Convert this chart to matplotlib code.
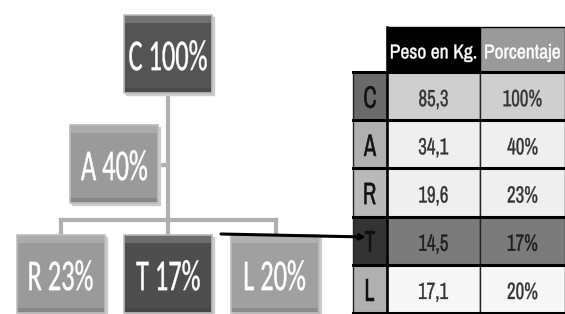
import matplotlib.pyplot as plt
from matplotlib.patches import Rectangle, PathPatch
from matplotlib.textpath import TextPath
from matplotlib.font_manager import FontProperties
from matplotlib.transforms import Affine2D

# data
letters = ['C', 'A', 'R', 'T', 'L']
peso = ['85,3', '34,1', '19,6', '14,5', '17,1']
porcentaje = [100, 40, 23, 17, 20]
headers = ['Peso en Kg.', 'Porcentaje']

fig = plt.figure(figsize=(5.65, 3.14), dpi=100)
ax = fig.add_axes([0, 0, 1, 1])
ax.set_xlim(0, 565)
ax.set_ylim(314, 0)
ax.axis('off')


def squeezed(x, y, s, size, family, sx=1.0, color='black', bold=0.0, z=6):
    # text drawn as a path so it can be narrowed like the original
    prop = FontProperties(family=family)
    tp = TextPath((0, 0), s, size=size, prop=prop)
    ref = TextPath((0, 0), 'H', size=size, prop=prop).get_extents()
    bb = tp.get_extents()
    tr = (Affine2D().translate(-(bb.x0 + bb.x1) / 2, -(ref.y0 + ref.y1) / 2)
          .scale(sx, -1).translate(x, y))
    ax.add_patch(PathPatch(tr.transform_path(tp), facecolor=color, edgecolor=color,
                           lw=bold, zorder=z))


# tree boxes (top-left corner)
box_w, box_h = 88, 78
box_pos = {'C': (124, 15), 'A': (70, 125), 'R': (17, 235), 'T': (124, 235), 'L': (231, 235)}
box_col = {'C': '#545454', 'A': '#9a9a9a', 'R': '#9a9a9a', 'T': '#4e4e4e', 'L': '#a0a0a0'}

# connectors
conn = '#b0b0b0'
ax.plot([168, 168], [93, 235], color=conn, lw=3, zorder=1)
ax.plot([158, 168], [165, 165], color=conn, lw=3, zorder=1)
ax.plot([61, 276], [220, 220], color=conn, lw=3, zorder=1)
for xx in (61, 276):
    ax.plot([xx, xx], [220, 235], color=conn, lw=3, zorder=1)

for k, p in zip(letters, porcentaje):
    x0, y0 = box_pos[k]
    ax.add_patch(Rectangle((x0 + 2, y0 + 2), box_w, box_h, color='#cccccc', zorder=2))
    ax.add_patch(Rectangle((x0, y0), box_w, box_h, facecolor=box_col[k],
                           edgecolor='#bdbdbd', lw=1.2, zorder=3))
    ax.add_patch(Rectangle((x0 + 1, y0 + 1), box_w - 2, 7, facecolor='white',
                           alpha=0.18, lw=0, zorder=4))
    ax.add_patch(Rectangle((x0 + 1, y0 + box_h - 5), box_w - 2, 4, facecolor='black',
                           alpha=0.12, lw=0, zorder=4))
    squeezed(x0 + box_w / 2, y0 + box_h / 2 + 2, f'{k} {p}%', 44, 'Carlito', 0.6, 'white',
             bold=0.3)

# table
col_x = [353, 387, 480, 565]
head_y = (27, 72)
row_h = 48.2
letter_col = ['#6a6a6a', '#b0b0b0', '#b9b9b9', '#333333', '#b0b0b0']
cell_col = ['#cfcfcf', '#efefef', '#efefef', '#7b7b7b', '#f7f7f7']
text_col = ['#333333', '#333333', '#333333', '#1e1e1e', '#333333']
head_col = ['#000000', '#9a9a9a']
tfont = 'Archivo Narrow'

for j, h in enumerate(headers):
    ax.add_patch(Rectangle((col_x[j + 1], head_y[0]), col_x[j + 2] - col_x[j + 1],
                           head_y[1] - head_y[0], facecolor=head_col[j], edgecolor='black',
                           lw=1, zorder=3))
    squeezed((col_x[j + 1] + col_x[j + 2]) / 2, (head_y[0] + head_y[1]) / 2 + 2, h,
             20, tfont, 0.98, 'white', bold=0.3)

for i, k in enumerate(letters):
    y0 = head_y[1] + i * row_h
    ax.add_patch(Rectangle((col_x[0], y0), col_x[1] - col_x[0], row_h,
                           facecolor=letter_col[i], edgecolor='#222222', lw=1, zorder=3))
    squeezed((col_x[0] + col_x[1]) / 2, y0 + row_h / 2 + 1, k, 31, tfont, 0.72,
             '#111111', bold=0.35)
    vals = [peso[i], f'{porcentaje[i]}%']
    for j, v in enumerate(vals):
        ax.add_patch(Rectangle((col_x[j + 1], y0), col_x[j + 2] - col_x[j + 1], row_h,
                               facecolor=cell_col[i], edgecolor='#222222', lw=1, zorder=3))
        squeezed((col_x[j + 1] + col_x[j + 2]) / 2, y0 + row_h / 2 + 2, v, 23.5, tfont,
                 0.8, text_col[i], bold=0.25)
    ax.plot([col_x[0], col_x[-1]], [y0, y0], color='black', lw=2.2, zorder=7)
ax.plot([col_x[0], col_x[-1]], [head_y[1] + 5 * row_h] * 2, color='black', lw=2.2, zorder=7)
ax.plot([col_x[1], col_x[1]], [head_y[0], 314], color='black', lw=1.8, zorder=7)

# arrow from the T branch to the T row
ax.annotate('', xy=(366, 237), xytext=(221, 234),
            arrowprops=dict(arrowstyle='-|>', color='black', lw=2.2, mutation_scale=8,
                            shrinkA=0, shrinkB=0),
            zorder=8)

fig.savefig('out.png', dpi=100)
